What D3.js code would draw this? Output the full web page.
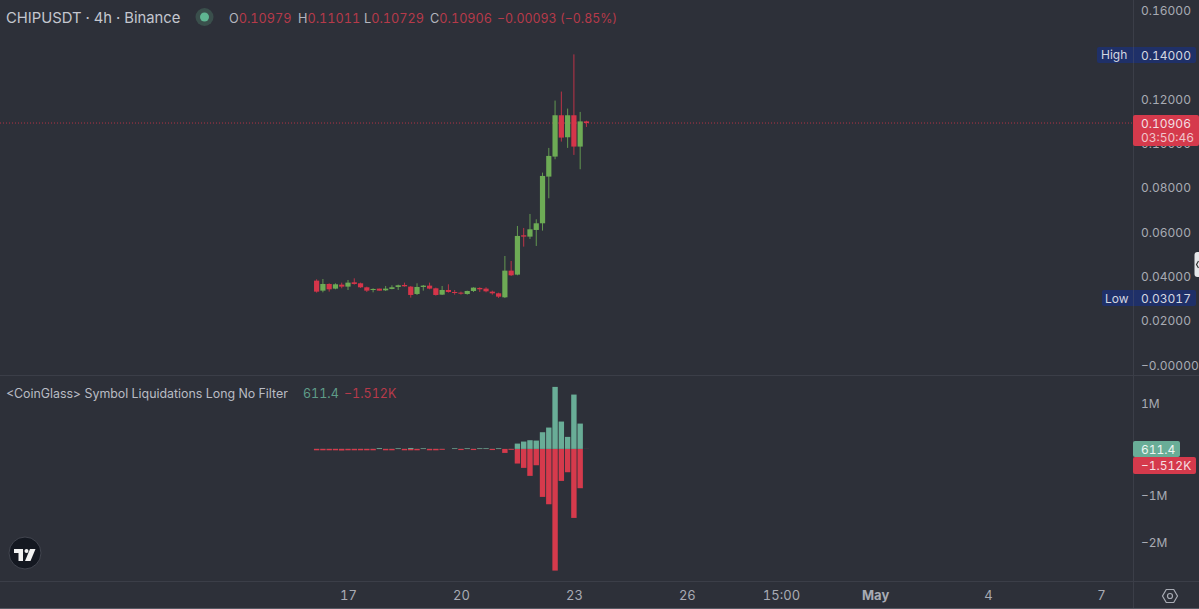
<!DOCTYPE html>
<html>
<head>
<meta charset="utf-8">
<script src="https://cdnjs.cloudflare.com/ajax/libs/d3/7.8.5/d3.min.js"></script>
<style>
html, body { margin: 0; padding: 0; background: #2d3039; overflow: hidden; }
svg { display: block; }
text { font-family: Inter, "Noto Sans", sans-serif; font-variant-numeric: tabular-nums; }
</style>
</head>
<body>
<div id="chart"></div>
<script>
// candles, 4h bars
var opens = [.03802,.03351,.03652,.03442,.03622,.03532,.03727,.03682,.03502,.03381,.03442,.03366,.03427,.03517,.03607,.03532,.03201,.03517,.03577,.03457,.03171,.03381,.03291,.03261,.03201,.03336,.03472,.03442,.03306,.03231,.03051,.04253,.04073,.05846,.05786,.06086,.06387,.08491,.09393,.11256,.10264,.11256,.09844,.10979];
var highs = [.03862,.03877,.03682,.03682,.03712,.03832,.03907,.03712,.03532,.03457,.03442,.03562,.03592,.03622,.03712,.03562,.03682,.03607,.03712,.03487,.03562,.03637,.03381,.03306,.03351,.03502,.03502,.03502,.03351,.03261,.04914,.04689,.06267,.06177,.06808,.06567,.08671,.09784,.11918,.12323,.11557,.14000,.11407,.11011];
var lows = [.03261,.03276,.03306,.03412,.03457,.03381,.03622,.03472,.03291,.03276,.03351,.03336,.03412,.03381,.03532,.03036,.03156,.03351,.03412,.03126,.03156,.03261,.03171,.03171,.03171,.03291,.03291,.03276,.03171,.03021,.03017,.04013,.04043,.05335,.05681,.05365,.06056,.07514,.09272,.10069,.09784,.09468,.08822,.10729];
var closes = [.03306,.03652,.03412,.03637,.03532,.03712,.03652,.03502,.03351,.03427,.03351,.03442,.03502,.03592,.03547,.03156,.03517,.03577,.03442,.03156,.03381,.03291,.03246,.03231,.03336,.03487,.03412,.03321,.03231,.03081,.04253,.04043,.05816,.05786,.06116,.06387,.08521,.09423,.11256,.10249,.11256,.09844,.10979,.10906];

// liquidations, in millions
var longs = [.002,.002,.002,.002,.002,.002,.002,.002,.002,.002,.018,.002,.002,.015,.002,.02,.002,.015,.002,.002,.002,0,.015,.002,.015,.002,.015,.015,.002,.015,0,.002,.115,.159,.188,.18,.361,.462,1.342,.592,.26,1.176,.548,.0006114];
var shorts = [-.03,-.03,-.03,-.03,-.035,-.03,-.03,-.03,-.03,-.03,-.004,-.03,-.03,-.004,-.03,-.03,-.03,-.004,-.03,-.03,-.02,0,-.003,-.025,-.004,-.025,-.004,-.004,-.025,-.004,-.087,-.02,-.317,-.411,-.584,-.354,-1.039,-1.198,-2.634,-.693,-.505,-1.494,-.851,-.001512];

var priceTicks = [0.16, 0.14, 0.12, 0.10, 0.08, 0.06, 0.04, 0.02, 0];
var priceTickLabels = ["0.16000", "0.14000", "0.12000", "0.10000", "0.08000", "0.06000", "0.04000", "0.02000", "\u22120.00000"];
var liqTicks = [1, -1, -2];
var liqTickLabels = ["1M", "\u22121M", "\u22122M"];
var timeTicks = [Date.UTC(2025,3,17), Date.UTC(2025,3,20), Date.UTC(2025,3,23), Date.UTC(2025,3,26), Date.UTC(2025,3,28,12), Date.UTC(2025,4,1), Date.UTC(2025,4,4), Date.UTC(2025,4,7)];
var timeTickLabels = ["17", "20", "23", "26", "15:00", "May", "4", "7"];
var firstBar = Date.UTC(2025,3,16,4);
var barMs = 4 * 3600 * 1000;

var width = 1199, height = 609;
var axisX = 1133.5;
var greenCandle = "#6dab55", redCandle = "#d5354a";
var greenBar = "#69ad97", redBar = "#d53a4c";
var axisText = "#a8abb4", lineColor = "#3b3e48";

var svg = d3.select("#chart").append("svg").attr("width", width).attr("height", height);
svg.append("rect").attr("width", width).attr("height", height).attr("fill", "#2d3039");

var x = d3.scaleUtc().domain([Date.UTC(2025,3,17), Date.UTC(2025,4,7)]).range([348, 1101]);
var y = d3.scaleLinear().domain([0, 0.16]).range([365, 10]);
var yLiq = d3.scaleLinear().domain([-2, 1]).range([541.3, 402.7]);
function barX(i) { return x(firstBar + i * barMs); }

// pane borders
svg.append("line").attr("x1", 0).attr("x2", width).attr("y1", 375.5).attr("y2", 375.5).attr("stroke", lineColor);
svg.append("line").attr("x1", 0).attr("x2", width).attr("y1", 581.5).attr("y2", 581.5).attr("stroke", lineColor);
svg.append("line").attr("x1", axisX).attr("x2", axisX).attr("y1", 0).attr("y2", height).attr("stroke", lineColor);

// price axis
var priceAxis = svg.append("g").attr("transform", "translate(1133,0.5)")
	.call(d3.axisRight(y).tickValues(priceTicks).tickSize(0).tickPadding(8)
		.tickFormat(function(d, i) { return priceTickLabels[i]; }));
var liqAxis = svg.append("g").attr("transform", "translate(1133,0.9)")
	.call(d3.axisRight(yLiq).tickValues(liqTicks).tickSize(0).tickPadding(8)
		.tickFormat(function(d, i) { return liqTickLabels[i]; }));
[priceAxis, liqAxis].forEach(function(a) {
	a.select(".domain").remove();
	a.attr("font-family", null).attr("font-size", null);
	a.selectAll("text").attr("fill", axisText).style("font-size", "12px");
});

// time axis
var timeAxis = svg.append("g").attr("transform", "translate(0,589)")
	.call(d3.axisBottom(x).tickValues(timeTicks).tickSize(0).tickPadding(2)
		.tickFormat(function(d, i) { return timeTickLabels[i]; }));
timeAxis.select(".domain").remove();
timeAxis.attr("font-family", null).attr("font-size", null);
timeAxis.selectAll("text").attr("fill", axisText).style("font-size", "13px")
	.style("font-weight", function(d, i) { return timeTickLabels[i] == "May" ? 700 : 400; });

// last price line
svg.append("line").attr("x1", 0).attr("x2", axisX).attr("y1", y(closes[closes.length - 1])).attr("y2", y(closes[closes.length - 1]))
	.attr("stroke", redCandle).attr("stroke-width", 1).attr("stroke-dasharray", "1,2").attr("opacity", 0.8);

// candles
var candles = svg.append("g").selectAll("g").data(opens).enter().append("g");
candles.append("line")
	.attr("x1", function(d, i) { return barX(i); })
	.attr("x2", function(d, i) { return barX(i); })
	.attr("y1", function(d, i) { return y(highs[i]); })
	.attr("y2", function(d, i) { return y(lows[i]); })
	.attr("stroke", function(d, i) { return closes[i] >= d ? greenCandle : redCandle; })
	.attr("stroke-width", 1).attr("opacity", 0.85);
candles.append("rect")
	.attr("x", function(d, i) { return barX(i) - 2.6; })
	.attr("width", 5.2)
	.attr("y", function(d, i) { return y(Math.max(d, closes[i])); })
	.attr("height", function(d, i) { return Math.max(1, Math.abs(y(d) - y(closes[i]))); })
	.attr("fill", function(d, i) { return closes[i] >= d ? greenCandle : redCandle; });

// liquidation bars
svg.append("g").selectAll("rect").data(shorts).enter().append("rect")
	.attr("x", function(d, i) { return barX(i) - 2.7; })
	.attr("width", 5.4)
	.attr("y", yLiq(0))
	.attr("height", function(d) { return yLiq(d) - yLiq(0); })
	.attr("fill", redBar);
svg.append("g").selectAll("rect").data(longs).enter().append("rect")
	.attr("x", function(d, i) { return barX(i) - 2.7; })
	.attr("width", 5.4)
	.attr("y", function(d) { return yLiq(d); })
	.attr("height", function(d) { return yLiq(0) - yLiq(d); })
	.attr("fill", greenBar);

function label(text, px, py, color, size, anchor) {
	return svg.append("text").attr("x", px).attr("y", py).attr("fill", color)
		.attr("text-anchor", anchor || "start").style("font-size", (size || 12) + "px").text(text);
}

// axis tags
var navy = "#1f3068";
svg.append("rect").attr("x", 1097).attr("y", 47).attr("width", 99).attr("height", 16).attr("rx", 2).attr("fill", navy);
svg.append("rect").attr("x", 1102).attr("y", 290).attr("width", 94).attr("height", 16).attr("rx", 2).attr("fill", navy);
svg.append("line").attr("x1", axisX).attr("x2", axisX).attr("y1", 47).attr("y2", 63).attr("stroke", "#34406b");
svg.append("line").attr("x1", axisX).attr("x2", axisX).attr("y1", 290).attr("y2", 306).attr("stroke", "#34406b");
label("High", 1101, 59, "#d4d7e0");
label("0.14000", 1141, 59.5, "#d4d7e0");
label("Low", 1105, 303, "#d4d7e0");
label("0.03017", 1141, 303, "#d4d7e0");

svg.append("rect").attr("x", 1133).attr("y", 115).attr("width", 66).attr("height", 31).attr("rx", 2).attr("fill", redBar);
label("0.10906", 1141, 128, "#f3dfe2");
label("03:50:46", 1141, 141.5, "#f0c4ca");

svg.append("rect").attr("x", 1133).attr("y", 441).attr("width", 47).attr("height", 16).attr("rx", 2).attr("fill", greenBar);
label("611.4", 1141, 453.5, "#eef5f2");
svg.append("rect").attr("x", 1133).attr("y", 457).attr("width", 63).attr("height", 17).attr("rx", 2).attr("fill", redBar);
label("\u22121.512K", 1141, 470, "#f5dfe2");

// header
label("CHIPUSDT \u00b7 4h \u00b7 Binance", 6, 23, "#c4c7cf", 14.8);
svg.append("circle").attr("cx", 204.5).attr("cy", 17).attr("r", 9).attr("fill", "#3a4f4c");
svg.append("circle").attr("cx", 204.5).attr("cy", 17).attr("r", 4.5).attr("fill", "#5fb592");

var ohlcNames = ["O", "H", "L", "C"];
var ohlcValues = [opens[43], highs[43], lows[43], closes[43]];
var ohlcX = [229, 298, 364, 430];
var dimRed = "#b63a4a";
ohlcNames.forEach(function(n, i) {
	var t = label(n, ohlcX[i], 23, "#b4b7bf", 12.7);
	t.append("tspan").attr("fill", dimRed).text(ohlcValues[i].toFixed(5));
});
label("\u22120.00093 (\u22120.85%)", 497, 23, dimRed, 12.4);

// indicator title
label("<CoinGlass> Symbol Liquidations Long No Filter", 6, 398, "#b9bcc4", 12.4);
label("611.4", 303, 398, "#5f9c88", 12.5);
label("\u22121.512K", 344, 398, "#b63a4a", 12.5);

// logo
var logo = svg.append("g");
logo.append("circle").attr("cx", 25).attr("cy", 553).attr("r", 16).attr("fill", "#141821").attr("stroke", "#42454f");
logo.append("path").attr("d", "M14,549H23V561H18.5V553H14Z").attr("fill", "#f2f2f2");
logo.append("circle").attr("cx", 26.5).attr("cy", 551).attr("r", 2).attr("fill", "#f2f2f2");
logo.append("path").attr("d", "M30,549H35.5L30.5,561H25Z").attr("fill", "#f2f2f2");

// settings icon
var hex = d3.range(6).map(function(i) {
	var a = i * Math.PI / 3;
	return [1170 + 7.5 * Math.cos(a), 596 + 7.5 * Math.sin(a)];
});
svg.append("path").attr("d", d3.line()(hex) + "Z").attr("fill", "none").attr("stroke", "#a8abb4").attr("stroke-width", 1.2);
svg.append("circle").attr("cx", 1170).attr("cy", 596).attr("r", 2.5).attr("fill", "none").attr("stroke", "#a8abb4").attr("stroke-width", 1.2);

// collapse button on the right edge
svg.append("rect").attr("x", 1194.5).attr("y", 252).attr("width", 12).attr("height", 25).attr("rx", 3).attr("fill", "#e6e7ea");
svg.append("path").attr("d", "M1198.5,261L1196.5,264.5L1198.5,268").attr("fill", "none").attr("stroke", "#333").attr("stroke-width", 1.2);

// bottom edge of the screenshot
svg.append("rect").attr("y", 608).attr("width", width).attr("height", 1).attr("fill", "#565963");
</script>
</body>
</html>
